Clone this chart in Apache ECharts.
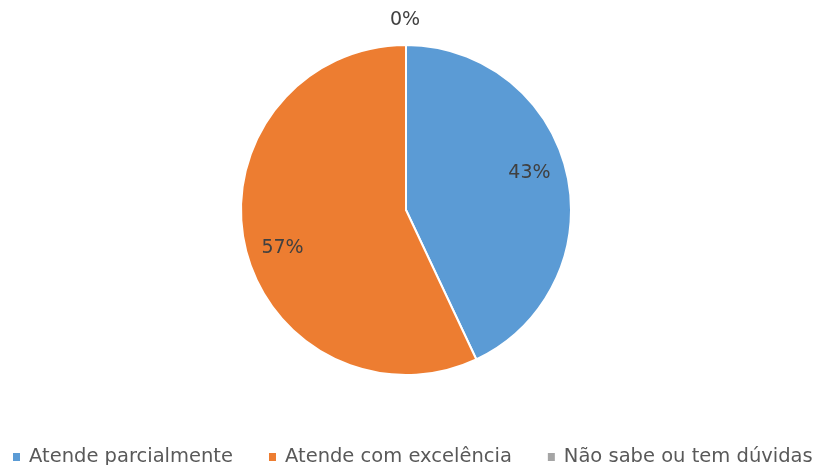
<!DOCTYPE html>
<html>
<head>
<meta charset="utf-8">
<script src="https://cdn.jsdelivr.net/npm/echarts@6/dist/echarts.min.js"></script>
<style>
  html, body { margin: 0; padding: 0; background: #ffffff; }
  #chart { width: 814px; height: 465px; }
</style>
</head>
<body>
<div id="chart"></div>
<script>
// Survey answers and their shares (percent)
const categories = ['Atende parcialmente', 'Atende com excelência', 'Não sabe ou tem dúvidas'];
const values = [43, 57, 0];
const colors = ['#5B9BD5', '#ED7D31', '#A5A5A5'];
// Label nudges from the default inside position, per slice
const labelOffsets = [[40, -18], [-40, 19], [-1, -104]];

const chart = echarts.init(document.getElementById('chart'));

const data = categories.map((name, i) => ({
  name: name,
  value: values[i],
  itemStyle: { color: colors[i] },
  label: { offset: labelOffsets[i] }
}));

chart.setOption({
  animation: false,
  legend: {
    data: categories,
    left: 6,
    top: 442,
    width: 1400,
    icon: 'rect',
    itemWidth: 9,
    itemHeight: 10,
    itemGap: 34,
    textStyle: {
      fontFamily: 'DejaVu Sans',
      fontSize: 19.5,
      color: '#595959',
      padding: [0, 0, 0, 3]
    }
  },
  series: [{
    type: 'pie',
    center: [406, 210],
    radius: [0, 165],
    startAngle: 90,
    clockwise: true,
    avoidLabelOverlap: false,
    data: data,
    itemStyle: { borderColor: '#ffffff', borderWidth: 2 },
    label: {
      show: true,
      position: 'inside',
      formatter: '{d}%',
      fontFamily: 'DejaVu Sans',
      fontSize: 19,
      color: '#404040'
    },
    labelLine: { show: false },
    emphasis: { disabled: true }
  }]
});
</script>
</body>
</html>
